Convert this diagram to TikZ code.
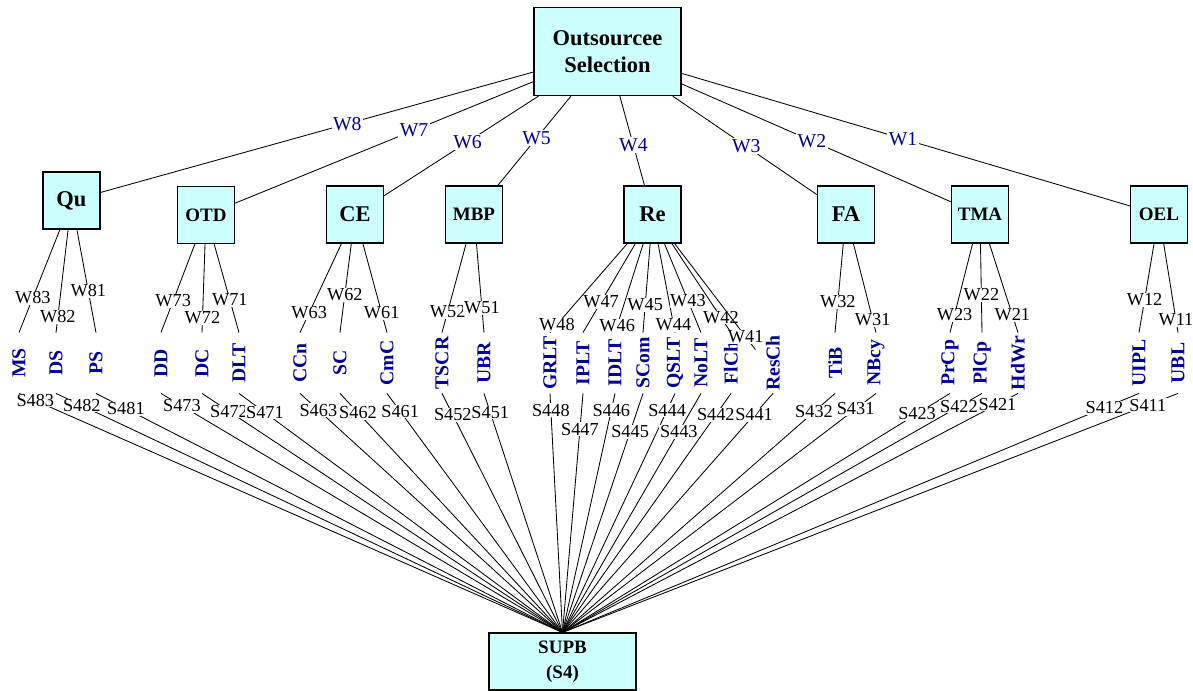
\documentclass[tikz,border=0pt]{standalone}
\usepackage{fontspec}
\setmainfont{Liberation Serif}
\definecolor{boxcyan}{RGB}{204,255,255}
\definecolor{wblue}{RGB}{0,0,150}

\begin{document}
\begin{tikzpicture}[x=0.025cm, y=-0.025cm, line width=0.6pt,
    crit/.style={draw, fill=boxcyan, line width=0.8pt, inner sep=0pt,
        minimum width=1.425cm, minimum height=1.425cm,
        font=\fontsize{16}{19}\selectfont\bfseries},
    critsm/.style={crit, font=\fontsize{13.5}{17.5}\selectfont\bfseries},
    sub/.style={rotate=90, inner sep=0pt, minimum width=1.5cm, text=wblue,
        font=\fontsize{14}{16}\selectfont\bfseries},
    wtop/.style={fill=white, inner sep=1pt, text=wblue, font=\fontsize{14}{16}\selectfont},
    wsub/.style={fill=white, inner sep=0.5pt, font=\fontsize{13}{15}\selectfont},
    slab/.style={wsub}
  ]
  \useasboundingbox (0,0) rectangle (1193,691);
  % goal, criteria and alternative
  \node[crit, minimum width=3.675cm, minimum height=2.2cm, align=center] (goal) at (607.5,51.5) {Outsourcee\\Selection};
  \node[crit] (Qu) at (71.5,200.5) {Qu};
  \node[critsm] (OTD) at (206,215) {OTD};
  \node[crit] (CE) at (355,214.5) {CE};
  \node[critsm] (MBP) at (474,214.5) {MBP};
  \node[crit] (Re) at (652.5,214.5) {Re};
  \node[crit] (FA) at (846,214.5) {FA};
  \node[critsm] (TMA) at (980,214.5) {TMA};
  \node[critsm] (OEL) at (1159,214.5) {OEL};
  \node[critsm, minimum width=3.675cm, align=center] (SUPB) at (562.5,661.5) {SUPB\\(S4)};

  % criteria weights
  \foreach \c/\w/\p in {Qu/W8/0.43, OTD/W7/0.4, CE/W6/0.46, MBP/W5/0.47,
      Re/W4/0.55, FA/W3/0.51, TMA/W2/0.484, OEL/W1/0.494}
    \draw (goal) -- node[wtop, pos=\p] {\w} (\c);

  % sub-criteria, local weights and scores
  \foreach \n/\x/\c/\w/\a/\s/\b in {
      MS/19/Qu/W83/0.663/S483/0.03, DS/56/Qu/W82/0.846/S482/0.051,
      PS/96/Qu/W81/0.596/S481/0.064,
      DD/161/OTD/W73/0.642/S473/0.052, DC/202/OTD/W72/0.832/S472/0.075,
      DLT/239/OTD/W71/0.631/S471/0.08,
      CCn/300/CE/W63/0.778/S463/0.07, SC/340/CE/W62/0.578/S462/0.081,
      CmC/387/CE/W61/0.778/S461/0.075,
      TSCR/442/MBP/W52/0.767/S452/0.09, UBR/484/MBP/W51/0.722/S451/0.08,
      GRLT/550/Re/W48/0.911/S448/0.07, IPLT/583/Re/W47/0.656/S447/0.15,
      IDLT/615/Re/W46/0.922/S446/0.07, SCom/643/Re/W45/0.689/S445/0.16,
      QSLT/675/Re/W44/0.911/S444/0.07, NoLT/701/Re/W43/0.644/S443/0.16,
      FlCh/731/Re/W42/0.83/S442/0.09,
      TiB/835/FA/W32/0.656/S432/0.077, NBcy/876/FA/W31/0.856/S431/0.065,
      PrCp/950/TMA/W23/0.8/S423/0.085, PlCp/982/TMA/W22/0.578/S422/0.055,
      HdWr/1018/TMA/W21/0.8/S421/0.045,
      UIPL/1139/OEL/W12/0.633/S412/0.06, UBL/1178/OEL/W11/0.856/S411/0.049}
  {
    \node[sub] (\n) at (\x,363) {\n};
    \draw (\c) -- node[wsub, pos=\a] {\w} (\n.east);
    \draw (\n.west) -- node[slab, pos=\b] {\s} (SUPB.north);
  }
  % ResCh is reached from its side
  \node[sub] (ResCh) at (773,363) {ResCh};
  \draw[shorten >=12pt] (Re) -- node[wsub, pos=0.78] {W41} (ResCh.north);
  \draw (ResCh.west) -- node[slab, pos=0.09] {S441} (SUPB.north);
\end{tikzpicture}
\end{document}
